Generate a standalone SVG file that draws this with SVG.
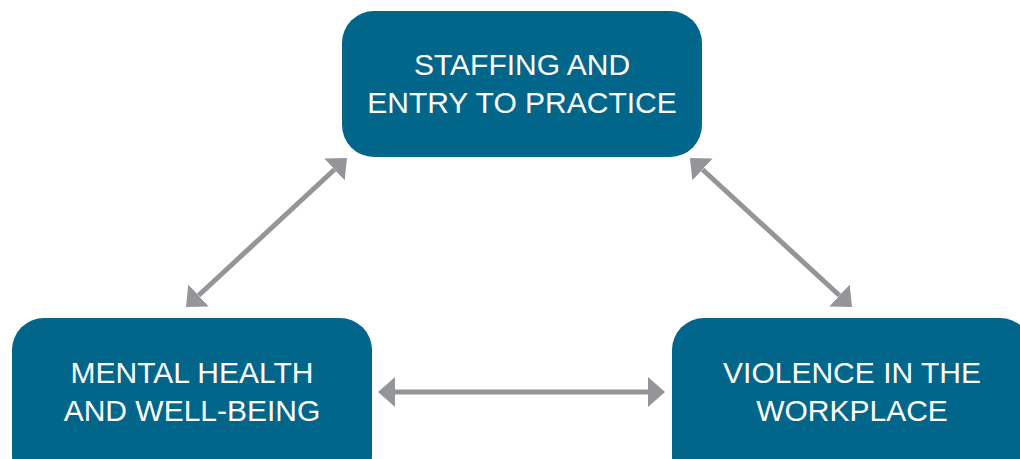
<svg xmlns="http://www.w3.org/2000/svg" width="1020" height="459" viewBox="0 0 1020 459">
  <style>
    .box { fill: #02668b; }
    .lbl { font-family: "Liberation Sans", Arial, sans-serif; font-size: 30px; fill: #ffffff; text-anchor: middle; }
    .conn { stroke: #939598; stroke-width: 5; fill: none; marker-start: url(#head); marker-end: url(#head); }
  </style>
  <defs>
    <marker id="head" markerUnits="userSpaceOnUse" markerWidth="18" markerHeight="30" refX="0" refY="15" orient="auto-start-reverse" viewBox="0 0 18 30">
      <path d="M0,0 L17,15 L0,30 z" fill="#939598"/>
    </marker>
  </defs>
  <rect width="1020" height="459" fill="#ffffff"/>
  <g id="connectors">
    <line class="conn" x1="198.5" y1="295.5" x2="334.5" y2="169.5"/>
    <line class="conn" x1="702.5" y1="169.5" x2="839.5" y2="295.5"/>
    <line class="conn" x1="395" y1="392" x2="648" y2="392"/>
  </g>
  <g id="node-staffing">
    <rect class="box" x="342" y="11" width="360" height="146" rx="32" ry="32"/>
    <text class="lbl" x="522" y="75">STAFFING AND</text>
    <text class="lbl" x="522" y="113">ENTRY TO PRACTICE</text>
  </g>
  <g id="node-mental">
    <rect class="box" x="12" y="318" width="360" height="170" rx="32" ry="32"/>
    <text class="lbl" x="192" y="383">MENTAL HEALTH</text>
    <text class="lbl" x="192" y="421">AND WELL-BEING</text>
  </g>
  <g id="node-violence">
    <rect class="box" x="672" y="318" width="360" height="170" rx="32" ry="32"/>
    <text class="lbl" x="852" y="383">VIOLENCE IN THE</text>
    <text class="lbl" x="852" y="421">WORKPLACE</text>
  </g>
</svg>
